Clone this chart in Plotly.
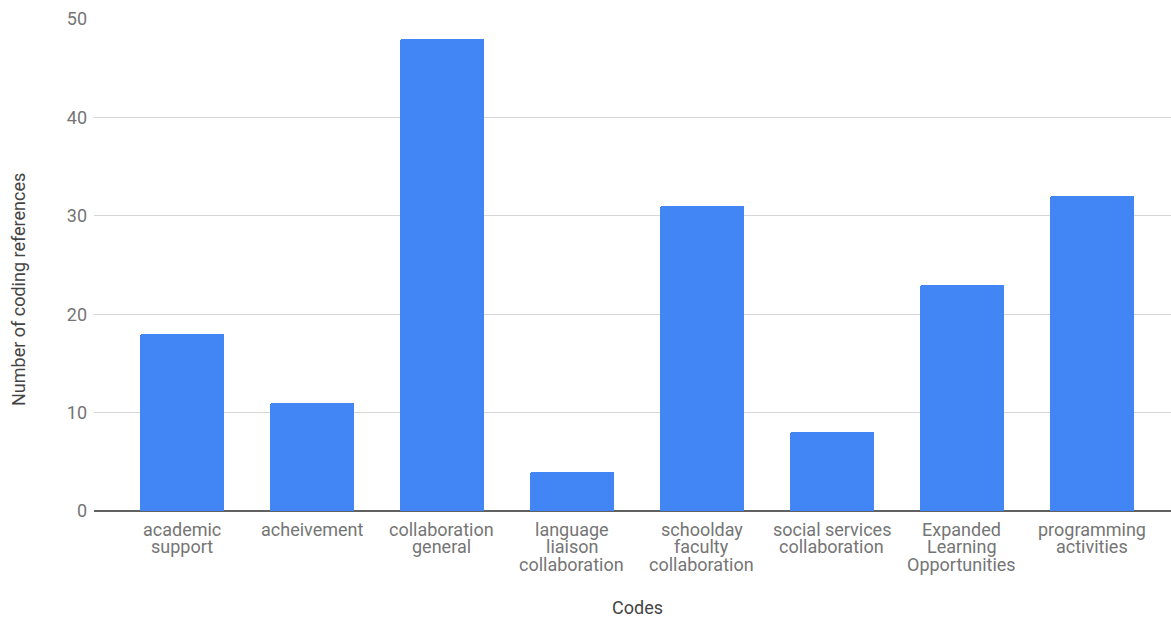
import plotly.graph_objects as go

# Coding reference counts per code
codes = [
    "academic support",
    "acheivement",
    "collaboration general",
    "language liaison collaboration",
    "schoolday faculty collaboration",
    "social services collaboration",
    "Expanded Learning Opportunities",
    "programming activities",
]
label_lines = [
    ["academic", "support"],
    ["acheivement"],
    ["collaboration", "general"],
    ["language", "liaison", "collaboration"],
    ["schoolday", "faculty", "collaboration"],
    ["social services", "collaboration"],
    ["Expanded", "Learning", "Opportunities"],
    ["programming", "activities"],
]
counts = [18, 11, 48, 4, 31, 8, 23, 32]
y_ticks = [0, 10, 20, 30, 40, 50]

FONT = "Roboto"
TICK_COLOR = "#757575"
TITLE_COLOR = "#444444"

W, H = 1171, 618
ML, MR, MT, MB = 94, 0, 19, 107
plot_w = W - ML - MR
plot_h = H - MT - MB

fig = go.Figure(
    go.Bar(
        x=list(range(len(codes))),
        y=counts,
        width=0.646,
        marker=dict(color="#4285F4", line=dict(width=0), cornerradius=2),
        hovertext=codes,
        hoverinfo="text+y",
    )
)

# Category labels, one text line per annotation for tight line spacing
annotations = []
for i, lines in enumerate(label_lines):
    for j, line in enumerate(lines):
        annotations.append(dict(
            x=i, xref="x", y=0, yref="paper",
            text=line, showarrow=False,
            xanchor="center", yanchor="middle",
            yshift=-(18 + 17.7 * j),
            font=dict(family=FONT, size=18, color=TICK_COLOR),
        ))

# Axis titles
annotations.append(dict(
    x=(637 - ML) / plot_w, xref="paper", y=0, yref="paper",
    text="Codes", showarrow=False, xanchor="center", yanchor="middle",
    yshift=-96,
    font=dict(family=FONT, size=18, color=TITLE_COLOR),
))
annotations.append(dict(
    x=(18 - ML) / plot_w, xref="paper", y=(H - MB - 290) / plot_h, yref="paper",
    text="Number of coding references", showarrow=False, textangle=-90,
    xanchor="center", yanchor="middle",
    font=dict(family=FONT, size=18, color=TITLE_COLOR),
))

fig.update_layout(
    width=W, height=H,
    margin=dict(l=ML, r=MR, t=MT, b=MB, pad=0),
    paper_bgcolor="white", plot_bgcolor="white",
    showlegend=False,
    bargap=0,
    annotations=annotations,
    xaxis=dict(
        range=[-0.677, 7.608],
        showticklabels=False, showgrid=False, zeroline=False,
        ticks="", fixedrange=True,
    ),
    yaxis=dict(
        range=[0, 50],
        tickvals=y_ticks,
        ticktext=[str(v) for v in y_ticks],
        tickfont=dict(family=FONT, size=18, color=TICK_COLOR),
        ticks="", ticklabelstandoff=6,
        showgrid=True, gridcolor="#d6d6d6", gridwidth=1,
        zeroline=True, zerolinecolor="#616161", zerolinewidth=2,
        showline=False, fixedrange=True,
    ),
)

fig.write_html("out.html")
